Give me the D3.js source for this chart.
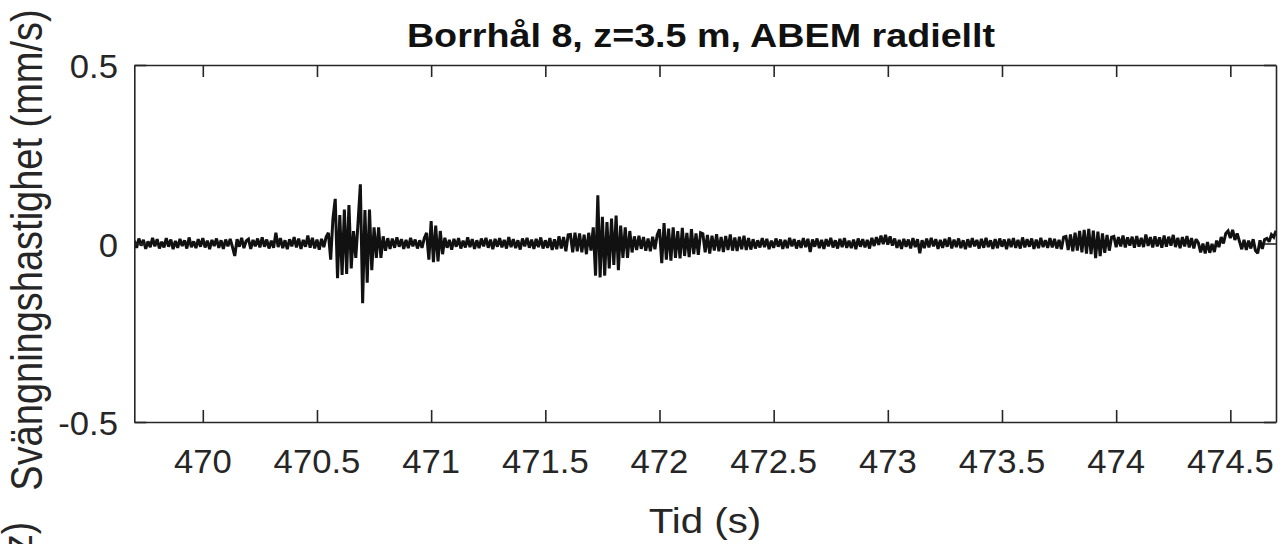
<!DOCTYPE html>
<html>
<head>
<meta charset="utf-8">
<script src="https://cdn.jsdelivr.net/npm/d3@7"></script>
<style>
  html, body { margin: 0; padding: 0; background: #ffffff; }
  svg { display: block; }
  text { font-family: "Liberation Sans", Arial, Helvetica, sans-serif; fill: #262626; }
</style>
</head>
<body>
<svg id="chart" width="1285" height="544"></svg>
<script>
// ---------------- data (velocity in µm/s = 0.001 mm/s, sampled every 0.01 s) ----------------
const startTime = 469.7;     // s
const sampleStep = 0.01;     // s
const quietStart = [
  8,-12,14,-6,10,-15,6,-10,16,-8,
  12,-14,5,-11,15,-9,11,-16,7,-12,
  13,-7,9,-14,17,-10,6,-13,12,-9,
  15,-11,8,-16,10,-7,14,-12,9,-15,
  11,-8,13,-10,-35,12,-9,16,-13,7,
  12,-15,10,-8,14,-11,17,-9,11,-14,
  8,-12,30,-10,15,-13,9,-16,12,-8,
  18,-11,14,-15,10,-9,22,-12,16,-14,
  11,-17,13,-10,18
];
const burst1 = [30,-45,70,125,-97,80,-88,95,-85,108,-70,35,-40,60,166,-167,94,-110,95,-75,45,-40,45,-40,20,-20,15,-15];
const quiet2 = [14,-12,17,-9,12,-15,10,-13,16,-8,11,-14,9,-12,15];
const burst1b = [30,-45,63,-52,50,-50,35,-30];
const quiet3 = [
  16,-12,10,-17,13,-9,15,-14,8,-11,
  17,-10,12,-15,9,-13,14,-8,16,-12,
  11,-16,13,-9,15,-11,10,-14,18,-10,
  12,-13,9,-17,14,-8,16,-12,11,-15,
  13,-10,17,-14,9,-12,15,-18,12,-16,
  20,-14,18,-22,24
];
const burst2 = [25,-25,30,-22,28,-25,25,-30,30,-20,45,-90,135,-95,75,-90,60,-70,70,-60,78,-75,50,-40,45,-40,35,-25];
const quiet4 = [20,-18,22,-15,18,-20,14,-22,19,-16,24];
const burst2b = [40,-55,57,-45,42,-48,45,-40,35,-42,44,-35,30,-38,40,-30,28,-32,30];
const coda2 = [27,-25,24,-28,22,-20,26,-22,18,-24,21,-18,25,-20,17,-21,19,-16,22,-18,15,-17];
const quiet5 = [
  12,-14,9,-11,15,-10,13,-16,8,-12,
  14,-9,11,-15,10,-13,16,-8,12,-14,
  9,-12,15,-10,13,-24,11,-9,14,-13,
  10,-15,12,-8,16,-11,9,-14,13,-10,
  15,-12,8,-13,11,-16,14,-9,12,-11,
  10,-14,16,-7,18,-4,22,-2,24,-3,
  20,-6,14,-12,10,-15,13,-9,11,-14,
  15,-10,12,-27,9,-13,14,-11,16,-8,
  12,-15,10,-12,13,-9,17,-14,11,-10,
  14,-13,9,-16,12,-11,15,-8,10,-14,
  13,-12,16,-10,9,-15,12,-13,14,-9,
  11,-16,13,-10,15,-12,10,-14,17,-11,
  12,-9,14,-15,11,-13,16,-10,9,-12,
  15,-11,13,-14,10,-16,18
];
const burst3 = [20,-18,25,-22,30,-20,35,-25,38,-28,41,-30,36,-41,33,-35,28,-26,24,-20,18];
const quiet6 = [
  20,-10,18,-8,22,-11,17,-6,19,-12,
  21,-9,16,-10,25,-7,18,-11,20,-8,
  17,-12,22,-9,19,-6,24,-10,16,-13,
  18,-8,21,-11,15,-14,12
];
const tailWave = [
  2,-25,0,-28,4,-26,-1,-24,
  8,-10,18,0,28,
  35,15,38,10,28,
  6,-16,10,-18,8,-14,12,-20,-27,9,-15,11,
  14,5,25,18,36
];
const velocityUm = [].concat(quietStart, burst1, quiet2, burst1b, quiet3, burst2, quiet4,
                             burst2b, coda2, quiet5, burst3, quiet6, tailWave);

const xTicks = [470, 470.5, 471, 471.5, 472, 472.5, 473, 473.5, 474, 474.5];
const xTickLabels = ["470", "470.5", "471", "471.5", "472", "472.5", "473", "473.5", "474", "474.5"];
const yTicks = [-0.5, 0, 0.5];
const yTickLabels = ["-0.5", "0", "0.5"];
const xDomain = [469.7, 474.7];
const yDomain = [-0.5, 0.5];

const titleText = "Borrhål 8, z=3.5 m, ABEM radiellt";
const xLabelText = "Tid (s)";
const yLabelText = "Svängningshastighet (mm/s)";
const lowerLabelText = "Frekvens (Hz)";

// ---------------- drawing ----------------
(function draw() {
  const svg = d3.select("#chart");
  const axisColor = "#262626";
  const pLeft = 134.3, pRight = 1276, pTop = 65, pBottom = 422;

  const x = d3.scaleLinear().domain(xDomain).range([pLeft, pRight]);
  const y = d3.scaleLinear().domain(yDomain).range([pBottom, pTop]);

  const points = velocityUm.map((v, i) => ({ t: startTime + i * sampleStep, v: v / 1000 }));

  svg.append("rect").attr("x", 0).attr("y", 0).attr("width", 1285).attr("height", 544).attr("fill", "#ffffff");

  svg.append("defs").append("clipPath").attr("id", "plotClip")
    .append("rect").attr("x", pLeft).attr("y", pTop).attr("width", pRight - pLeft).attr("height", pBottom - pTop);

  const line = d3.line().x(d => x(d.t)).y(d => y(d.v));
  svg.append("path")
    .datum(points)
    .attr("clip-path", "url(#plotClip)")
    .attr("fill", "none")
    .attr("stroke", "#111111")
    .attr("stroke-width", 3)
    .attr("stroke-linejoin", "miter")
    .attr("stroke-miterlimit", 2)
    .attr("d", line);

  const tickLen = 12;
  const bottomAxis = d3.axisBottom(x).tickValues(xTicks).tickSizeInner(-tickLen).tickSizeOuter(0).tickFormat("");
  const topAxis = d3.axisTop(x).tickValues(xTicks).tickSizeInner(-tickLen).tickSizeOuter(0).tickFormat("");
  const leftAxis = d3.axisLeft(y).tickValues(yTicks).tickSizeInner(-tickLen).tickSizeOuter(0).tickFormat("");
  const rightAxis = d3.axisRight(y).tickValues(yTicks).tickSizeInner(-tickLen).tickSizeOuter(0).tickFormat("");

  function styleAxis(g) {
    g.selectAll("path.domain").attr("stroke", axisColor).attr("stroke-width", 1.6);
    g.selectAll(".tick line").attr("stroke", axisColor).attr("stroke-width", 1.6);
  }
  svg.append("g").attr("transform", `translate(0,${pBottom})`).call(bottomAxis).call(styleAxis);
  svg.append("g").attr("transform", `translate(0,${pTop})`).call(topAxis).call(styleAxis);
  svg.append("g").attr("transform", `translate(${pLeft},0)`).call(leftAxis).call(styleAxis);
  svg.append("g").attr("transform", `translate(${pRight},0)`).call(rightAxis).call(styleAxis);

  const sx = 1.15, tsx = 1.05;
  svg.append("g").selectAll("text").data(xTicks).join("text")
    .attr("transform", d => `translate(${x(d)},473) scale(${tsx},1)`)
    .attr("text-anchor", "middle")
    .attr("font-size", 33)
    .text((d, i) => xTickLabels[i]);

  svg.append("g").selectAll("text").data(yTicks).join("text")
    .attr("transform", d => `translate(118,${y(d) + 13}) scale(${tsx},1)`)
    .attr("text-anchor", "end")
    .attr("font-size", 33)
    .text((d, i) => yTickLabels[i]);

  svg.append("text")
    .attr("transform", `translate(701,47) scale(1.16,1)`)
    .attr("text-anchor", "middle")
    .attr("font-size", 32.5)
    .attr("font-weight", "bold")
    .style("fill", "#111")
    .text(titleText);

  svg.append("text")
    .attr("transform", `translate(705,533) scale(${sx},1)`)
    .attr("text-anchor", "middle")
    .attr("font-size", 35)
    .text(xLabelText);

  svg.append("text")
    .attr("transform", `translate(42,250) scale(${sx},1) rotate(-90)`)
    .attr("text-anchor", "middle")
    .attr("font-size", 38)
    .text(yLabelText);

  svg.append("text")
    .attr("transform", `translate(32,522) scale(${sx},1) rotate(-90)`)
    .attr("text-anchor", "end")
    .attr("font-size", 37)
    .text(lowerLabelText);
})();
</script>
</body>
</html>
